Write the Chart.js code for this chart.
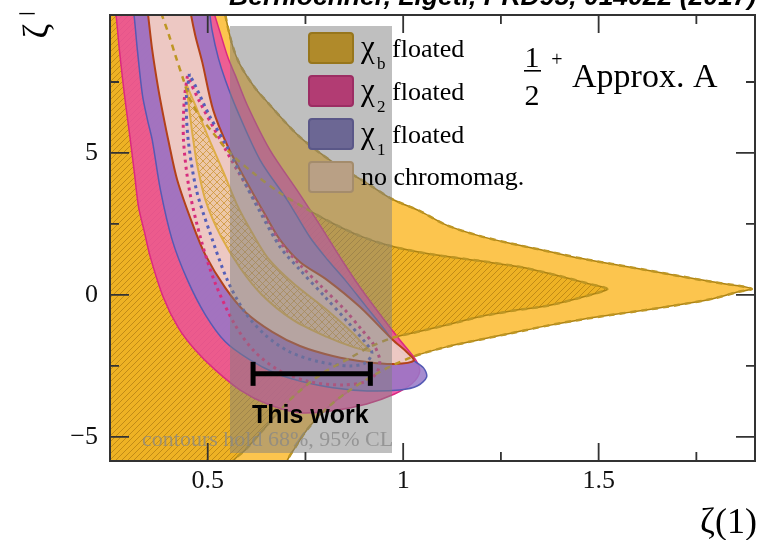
<!DOCTYPE html>
<html>
<head>
<meta charset="utf-8">
<script src="https://cdn.jsdelivr.net/npm/chart.js@4.4.1/dist/chart.umd.min.js"></script>
<style>
  html, body { margin: 0; padding: 0; background: #fff; }
  #c { display: block; }
</style>
</head>
<body>
<canvas id="c" width="763" height="540"></canvas>
<script>
// ---- axes ----
const xRange = [0.25, 1.9];
const yRange = [-5.85, 9.86];
const xMajor = [0.5, 1, 1.5];
const xMinor = [0.75, 1.25, 1.75];
const xLabels = ['0.5', '1', '1.5'];
const yMajor = [-5, 0, 5];
const yMinor = [-2.5, 2.5, 7.5];
const yLabels = ['\u22125', '0', '5'];

// ---- contours in the (zeta(1), zeta-bar) plane ----
// chi_b floated, 95% CL
const chiB95 = [
  [0.226, 10.56], [0.537, 10.56], [0.545, 9.86], [0.563, 8.80], [0.583, 8.10],
  [0.621, 7.29], [0.652, 6.80], [0.698, 6.09], [0.736, 5.56], [0.787, 5.00],
  [0.838, 4.51], [0.907, 3.94], [0.971, 3.38], [1.042, 2.96], [1.111, 2.46],
  [1.195, 2.08], [1.279, 1.80], [1.366, 1.55], [1.450, 1.30], [1.534, 1.09],
  [1.621, 0.88], [1.705, 0.67], [1.790, 0.46], [1.858, 0.32], [1.892, 0.21],
  [1.858, 0.11], [1.790, -0.14], [1.705, -0.35], [1.621, -0.53], [1.534, -0.70],
  [1.450, -0.88], [1.366, -1.09], [1.279, -1.34], [1.195, -1.58], [1.111, -1.83],
  [1.024, -2.18], [0.940, -2.71], [0.864, -3.35], [0.800, -4.05], [0.754, -4.75],
  [0.723, -5.39], [0.703, -5.85], [0.695, -6.34], [0.226, -6.34]
];
// chi_b floated, 68% CL
const chiB68 = [
  [0.226, 10.56], [0.374, 10.56], [0.379, 10.04], [0.399, 9.23], [0.417, 8.45],
  [0.438, 7.57], [0.455, 6.87], [0.481, 6.27], [0.514, 5.70], [0.557, 5.00],
  [0.616, 4.30], [0.685, 3.59], [0.744, 3.10], [0.813, 2.57], [0.889, 2.08],
  [0.966, 1.73], [1.068, 1.44], [1.195, 1.20], [1.297, 0.99], [1.399, 0.67],
  [1.476, 0.39], [1.522, 0.21], [1.489, 0.04], [1.450, -0.11], [1.366, -0.39],
  [1.279, -0.56], [1.195, -0.77], [1.111, -1.06], [1.024, -1.34], [0.973, -1.51],
  [0.915, -1.83], [0.864, -2.22], [0.787, -2.82], [0.710, -3.70], [0.642, -4.75],
  [0.596, -5.46], [0.565, -5.85], [0.552, -6.34], [0.226, -6.34]
];
// chi_2 floated, 95% CL
const chi2_95 = [
  [0.256, 10.56], [0.264, 10.04], [0.274, 8.63], [0.287, 7.04], [0.302, 5.46],
  [0.313, 4.23], [0.323, 3.10], [0.338, 2.22], [0.353, 1.34], [0.386, -0.07],
  [0.425, -1.16], [0.468, -1.94], [0.519, -2.64], [0.583, -3.35], [0.652, -3.84],
  [0.736, -4.15], [0.820, -4.08], [0.907, -3.84], [0.978, -3.49], [1.022, -3.13],
  [1.042, -2.71], [1.032, -2.29], [0.991, -1.58], [0.940, -0.67], [0.889, 0.28],
  [0.843, 1.23], [0.787, 2.46], [0.728, 3.70], [0.659, 5.11], [0.601, 6.69],
  [0.570, 7.75], [0.552, 8.35], [0.532, 9.23], [0.514, 10.04], [0.506, 10.56]
];
// chi_1 floated, 95% CL
const chi1_95 = [
  [0.302, 10.56], [0.310, 10.04], [0.320, 8.63], [0.333, 7.04], [0.346, 6.16],
  [0.358, 5.46], [0.379, 3.70], [0.409, 1.94], [0.448, 0.53], [0.494, -0.70],
  [0.545, -1.65], [0.608, -2.29], [0.672, -2.75], [0.736, -3.03], [0.820, -3.27],
  [0.907, -3.38], [0.991, -3.35], [1.037, -3.20], [1.060, -2.89], [1.052, -2.57],
  [1.024, -2.29], [0.991, -1.94], [0.953, -1.23], [0.902, -0.35], [0.851, 0.53],
  [0.807, 1.23], [0.761, 2.04], [0.703, 3.35], [0.634, 4.75], [0.575, 6.51],
  [0.545, 7.57], [0.527, 8.35], [0.511, 9.33], [0.504, 10.04], [0.499, 10.56]
];
// no chromomagnetic terms, 95% CL
const noCM95 = [
  [0.341, 10.56], [0.346, 10.04], [0.358, 8.63], [0.374, 7.22], [0.386, 6.34],
  [0.399, 5.46], [0.422, 4.05], [0.460, 2.54], [0.494, 1.41], [0.545, 0.25],
  [0.596, -0.60], [0.665, -1.30], [0.736, -1.80], [0.820, -2.15], [0.907, -2.36],
  [0.978, -2.43], [1.027, -2.32], [1.009, -2.01], [0.973, -1.58], [0.889, -0.42],
  [0.805, 0.53], [0.736, 1.16], [0.685, 1.94], [0.647, 2.82], [0.601, 3.94],
  [0.552, 5.21], [0.514, 6.51], [0.486, 8.20], [0.468, 9.15], [0.455, 10.04],
  [0.450, 10.56]
];
// no chromomagnetic terms, 68% CL
const noCM68 = [
  [0.445, 7.43], [0.453, 6.51], [0.463, 5.46], [0.473, 4.58], [0.494, 3.35],
  [0.532, 2.11], [0.583, 0.95], [0.639, 0.00], [0.718, -0.88], [0.805, -1.48],
  [0.871, -1.83], [0.915, -1.97], [0.894, -1.69], [0.871, -1.34], [0.805, -0.53],
  [0.718, 0.42], [0.654, 1.30], [0.614, 2.18], [0.575, 3.17], [0.540, 4.33],
  [0.499, 5.63], [0.468, 6.69], [0.445, 7.43]
];
// chi_2 floated, 68% CL
const chi2_68 = [
  [0.448, 7.71], [0.440, 6.87], [0.438, 5.46], [0.453, 3.70], [0.483, 1.94],
  [0.519, 0.42], [0.570, -1.06], [0.621, -2.01], [0.685, -2.68], [0.761, -3.06],
  [0.846, -3.17], [0.902, -3.06], [0.932, -2.75], [0.940, -2.29], [0.925, -1.76],
  [0.894, -1.23], [0.851, -0.53], [0.792, 0.28], [0.736, 1.06], [0.685, 1.87],
  [0.629, 3.17], [0.578, 4.33], [0.532, 5.46], [0.481, 6.76], [0.448, 7.71]
];
// chi_1 floated, 68% CL
const chi1_68 = [
  [0.453, 7.78], [0.445, 6.87], [0.450, 5.46], [0.471, 3.70], [0.506, 2.18],
  [0.550, 0.53], [0.596, -0.63], [0.647, -1.41], [0.710, -2.01], [0.787, -2.36],
  [0.864, -2.50], [0.904, -2.39], [0.920, -2.04], [0.904, -1.69], [0.858, -0.95],
  [0.800, -0.07], [0.736, 0.88], [0.685, 1.69], [0.634, 2.92], [0.591, 4.05],
  [0.550, 5.21], [0.506, 6.27], [0.471, 7.29], [0.453, 7.78]
];

// measurement of zeta(1) drawn as a horizontal interval
const thisWork = { center: 0.766, halfWidth: 0.15, y: -2.78 };

// legend entries
const legendSymbols = ['\u03c7', '\u03c7', '\u03c7', ''];
const legendSubs = ['b', '2', '1', ''];
const legendTexts = ['floated', 'floated', 'floated', 'no chromomag.'];
const legendFill = ['#b08a2a', '#b23c73', '#6c6794', '#b9a085'];
const legendEdge = ['#97761c', '#9c2d63', '#5a5788', '#a48c6c'];

const canvas = document.getElementById('c');
const ctx0 = canvas.getContext('2d');

function makeHatch(size, base, line, cross) {
  const t = document.createElement('canvas');
  t.width = size; t.height = size;
  const g = t.getContext('2d');
  g.fillStyle = base;
  g.fillRect(0, 0, size, size);
  g.strokeStyle = line;
  g.lineWidth = 1;
  g.beginPath();
  g.moveTo(-1, size + 1); g.lineTo(size + 1, -1);
  g.moveTo(-1, 1); g.lineTo(1, -1);
  g.moveTo(size - 1, size + 1); g.lineTo(size + 1, size - 1);
  if (cross) {
    g.moveTo(-1, -1); g.lineTo(size + 1, size + 1);
    g.moveTo(size - 1, -1); g.lineTo(size + 1, 1);
    g.moveTo(-1, size - 1); g.lineTo(1, size + 1);
  }
  g.stroke();
  return ctx0.createPattern(t, 'repeat');
}

const hatchB = makeHatch(6, 'rgb(238,178,36)', 'rgba(185,132,20,0.85)', false);
const crossNC = makeHatch(7, 'rgba(236,196,120,0.38)', 'rgba(205,150,55,0.8)', true);

const toXY = pts => pts.map(([x, y]) => ({ x, y }));
const contour = (pts, o) => Object.assign({
  data: toXY(pts),
  showLine: true,
  pointRadius: 0,
  tension: 0.3,
  clip: 0,
  borderWidth: 1.5,
  fill: 'shape'
}, o);

const datasets = [
  contour(chiB95, { backgroundColor: 'rgb(252,197,78)', borderColor: 'rgb(172,130,18)', order: 10 }),
  contour(chiB68, { backgroundColor: hatchB, borderColor: 'rgb(172,130,18)', order: 9 }),
  contour(chi2_95, { backgroundColor: 'rgba(235,75,160,0.85)', borderColor: 'rgb(220,40,130)', order: 8 }),
  contour(chi1_95, { backgroundColor: 'rgba(150,120,200,0.85)', borderColor: 'rgb(85,90,180)', order: 7 }),
  contour(noCM95, { backgroundColor: 'rgba(245,210,195,0.9)', borderColor: 'rgb(180,65,25)', borderWidth: 2, order: 6 }),
  contour(noCM68, { backgroundColor: crossNC, borderColor: 'rgb(222,172,70)', borderWidth: 2, order: 5 }),
  contour(chi2_68, { fill: false, borderColor: 'rgb(215,45,125)', borderWidth: 3, borderDash: [3, 4], order: 4 }),
  contour(chi1_68, { fill: false, borderColor: 'rgb(85,95,185)', borderWidth: 3, borderDash: [3, 4], order: 3 }),
  contour(chiB68, { fill: false, borderColor: 'rgb(190,150,35)', borderWidth: 2.5, borderDash: [6, 5], order: 2 }),
  contour(chiB95, { fill: false, borderColor: 'rgb(190,150,35)', borderWidth: 2.5, borderDash: [6, 5], order: 1 }),
  {
    id: 'thiswork',
    data: [
      { x: thisWork.center - thisWork.halfWidth, y: thisWork.y },
      { x: thisWork.center + thisWork.halfWidth, y: thisWork.y }
    ],
    showLine: true,
    fill: false,
    tension: 0,
    borderColor: '#000',
    borderWidth: 5,
    borderCapStyle: 'butt',
    pointStyle: 'line',
    pointRotation: 90,
    pointRadius: 12,
    pointBorderWidth: 5,
    pointBorderColor: '#000',
    pointBackgroundColor: '#000',
    order: 0
  }
];

function roundRect(ctx, x, y, w, h, r) {
  ctx.beginPath();
  ctx.moveTo(x + r, y);
  ctx.lineTo(x + w - r, y); ctx.quadraticCurveTo(x + w, y, x + w, y + r);
  ctx.lineTo(x + w, y + h - r); ctx.quadraticCurveTo(x + w, y + h, x + w - r, y + h);
  ctx.lineTo(x + r, y + h); ctx.quadraticCurveTo(x, y + h, x, y + h - r);
  ctx.lineTo(x, y + r); ctx.quadraticCurveTo(x, y, x + r, y);
  ctx.closePath();
}

const decorations = {
  id: 'decorations',
  beforeDatasetDraw(chart, args) {
    if (chart.data.datasets[args.index].id !== 'thiswork') return;
    const ctx = chart.ctx;
    ctx.save();
    // translucent legend panel
    ctx.fillStyle = 'rgba(128,128,128,0.5)';
    ctx.fillRect(230, 26, 162, 427);
    const rows = [33, 76, 119, 162];
    const bases = [57, 100, 143, 185];
    legendTexts.forEach((txt, i) => {
      roundRect(ctx, 309, rows[i], 44, 30, 3);
      ctx.fillStyle = legendFill[i];
      ctx.fill();
      ctx.lineWidth = 2;
      ctx.strokeStyle = legendEdge[i];
      ctx.stroke();
      ctx.fillStyle = '#000';
      ctx.textBaseline = 'alphabetic';
      ctx.textAlign = 'left';
      if (legendSymbols[i]) {
        ctx.font = '31px "Liberation Serif"';
        ctx.fillText(legendSymbols[i], 361, bases[i]);
        ctx.font = '17px "Liberation Serif"';
        ctx.fillText(legendSubs[i], 377, bases[i] + 12);
        ctx.font = '26px "Liberation Serif"';
        ctx.fillText(txt, 392, bases[i]);
      } else {
        ctx.font = '26px "Liberation Serif"';
        ctx.fillText(txt, 361, bases[i]);
      }
    });
    ctx.restore();
  },
  afterDraw(chart) {
    const ctx = chart.ctx;
    const { left, right, top, bottom } = chart.chartArea;
    const xs = chart.scales.x, ys = chart.scales.y;
    ctx.save();
    // frame and inward ticks
    ctx.strokeStyle = '#333';
    ctx.lineWidth = 2;
    ctx.strokeRect(left, top, right - left, bottom - top);
    ctx.lineWidth = 1.8;
    ctx.beginPath();
    const tx = (v, len) => {
      const p = xs.getPixelForValue(v);
      ctx.moveTo(p, bottom); ctx.lineTo(p, bottom - len);
      ctx.moveTo(p, top); ctx.lineTo(p, top + len);
    };
    const ty = (v, len) => {
      const p = ys.getPixelForValue(v);
      ctx.moveTo(left, p); ctx.lineTo(left + len, p);
      ctx.moveTo(right, p); ctx.lineTo(right - len, p);
    };
    xMajor.forEach(v => tx(v, 18)); xMinor.forEach(v => tx(v, 9));
    yMajor.forEach(v => ty(v, 19)); yMinor.forEach(v => ty(v, 9));
    ctx.stroke();

    ctx.fillStyle = '#000';
    ctx.textBaseline = 'alphabetic';
    // reference line at the top
    ctx.textAlign = 'left';
    ctx.font = 'italic bold 26.5px "Liberation Sans"';
    ctx.fillText('Bernlochner, Ligeti, PRD95, 014022 (2017)', 229, 5);

    // axis titles
    ctx.font = '36px "Liberation Serif"';
    ctx.textAlign = 'right';
    ctx.fillText('\u03b6(1)', 757, 533);
    ctx.save();
    ctx.translate(48, 31);
    ctx.rotate(-Math.PI / 2);
    ctx.textAlign = 'center';
    ctx.fillText('\u03b6', 0, 0);
    ctx.restore();
    ctx.font = '30px "Liberation Serif"';
    ctx.textAlign = 'center';
    ctx.fillText('\u00af', 27, 35);

    // model label
    ctx.font = '30px "Liberation Serif"';
    ctx.textAlign = 'center';
    ctx.fillText('1', 532, 67);
    ctx.fillText('2', 532, 105);
    ctx.fillRect(524, 70, 17, 1.6);
    ctx.font = '20px "Liberation Serif"';
    ctx.fillText('+', 557, 66);
    ctx.font = '34px "Liberation Serif"';
    ctx.textAlign = 'left';
    ctx.fillText('Approx. A', 572, 87);

    // measurement label
    ctx.font = 'bold 25px "Liberation Sans"';
    ctx.fillText('This work', 252, 423);

    // confidence-level note
    ctx.font = '22px "Liberation Serif"';
    ctx.fillStyle = 'rgba(135,135,135,0.75)';
    ctx.fillText('contours hold 68%, 95% CL', 142, 446);
    ctx.restore();
  }
};

const noEdgePadding = s => {
  s.paddingLeft = 0; s.paddingRight = 0; s.paddingTop = 0; s.paddingBottom = 0;
};

new Chart(canvas, {
  type: 'scatter',
  data: { datasets },
  options: {
    responsive: false,
    animation: false,
    devicePixelRatio: 1,
    events: [],
    layout: { autoPadding: false, padding: { left: 0, right: 8, top: 15, bottom: 0 } },
    plugins: { legend: { display: false }, tooltip: { enabled: false } },
    scales: {
      x: {
        type: 'linear',
        min: xRange[0], max: xRange[1],
        grid: { display: false, drawTicks: false },
        border: { display: false },
        afterBuildTicks: s => { s.ticks = xMajor.map(v => ({ value: v })); },
        afterFit: s => { s.height = 79; noEdgePadding(s); },
        ticks: {
          autoSkip: false, maxRotation: 0, minRotation: 0, padding: 5, color: '#111',
          font: { family: 'Liberation Serif', size: 26 },
          callback: v => { const i = xMajor.indexOf(v); return i >= 0 ? xLabels[i] : ''; }
        }
      },
      y: {
        type: 'linear',
        min: yRange[0], max: yRange[1],
        grid: { display: false, drawTicks: false },
        border: { display: false },
        afterBuildTicks: s => { s.ticks = yMajor.map(v => ({ value: v })); },
        afterFit: s => { s.width = 110; noEdgePadding(s); },
        ticks: {
          autoSkip: false, padding: 12, color: '#111',
          font: { family: 'Liberation Serif', size: 26 },
          callback: v => { const i = yMajor.indexOf(v); return i >= 0 ? yLabels[i] : ''; }
        }
      }
    }
  },
  plugins: [decorations]
});
</script>
</body>
</html>
